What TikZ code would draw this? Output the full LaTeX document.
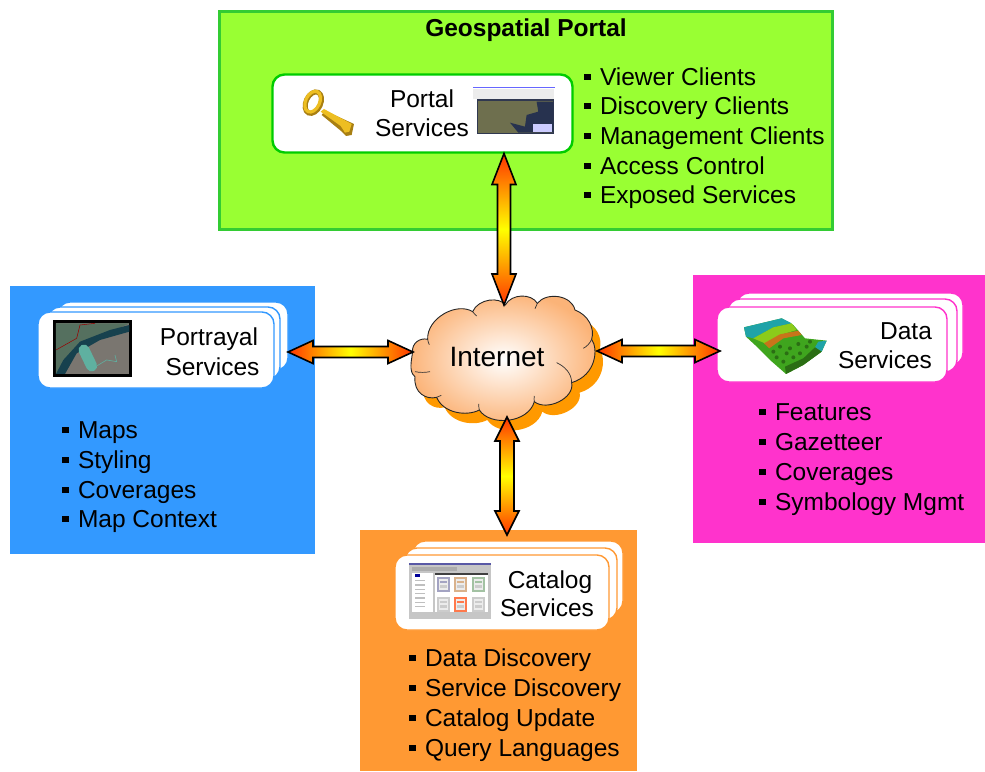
\documentclass[tikz,border=0pt]{standalone}
\usepackage{fontspec}
\setmainfont{Liberation Sans}
\usetikzlibrary{calc}
\definecolor{greenpanel}{HTML}{99FF33}
\definecolor{greenedge}{HTML}{33CC33}
\definecolor{greencard}{HTML}{00CC00}
\definecolor{bluepanel}{HTML}{3399FF}
\definecolor{magentapanel}{HTML}{FF33CC}
\definecolor{orangepanel}{HTML}{FF9933}
\definecolor{cloudshadow}{HTML}{FF9900}
\definecolor{cloudpeach}{HTML}{FBB985}
\definecolor{gold}{HTML}{EDBE22}
\definecolor{golddark}{HTML}{A87F12}
\definecolor{mapland}{HTML}{6E6F4E}
\definecolor{mapwater}{HTML}{27324F}
\definecolor{mapframe}{HTML}{303850}
\definecolor{rivertop}{HTML}{55705F}
\definecolor{riverdark}{HTML}{17414E}
\definecolor{cityland}{HTML}{7A7670}
\definecolor{capsule}{HTML}{5FB0A0}
\definecolor{terrteal}{HTML}{1FA3A8}
\definecolor{terrgreen}{HTML}{3FA51E}
\definecolor{terrlime}{HTML}{8CCB1A}
\definecolor{terrorange}{HTML}{C8741A}
\definecolor{terrdark}{HTML}{2B6E14}
\pgfdeclarehorizontalshading{arrowh}{100bp}{rgb(0bp)=(1,.2,0); rgb(25bp)=(1,.2,0); rgb(50bp)=(1,1,0); rgb(75bp)=(1,.2,0); rgb(100bp)=(1,.2,0)}
\pgfdeclareverticalshading{arrowv}{100bp}{rgb(0bp)=(1,.2,0); rgb(25bp)=(1,.2,0); rgb(50bp)=(1,1,0); rgb(75bp)=(1,.2,0); rgb(100bp)=(1,.2,0)}
\tikzset{
  panel/.style={rectangle,inner sep=0pt,outer sep=0pt},
  card/.style={rectangle,rounded corners=12pt,fill=white,inner sep=0pt,outer sep=0pt,line width=1.4pt},
  txt/.style={inner sep=0pt,outer sep=0pt,font=\fontsize{24.5}{28}\selectfont,text=black},
  linkbody/.style={draw=black,line width=1.6pt,line join=miter,miter limit=3},
}
\newcommand\itm{\raisebox{5.5pt}{\rule{6.5pt}{6.5pt}}\hspace{9.5pt}}
% horizontal double arrow between two named coordinates
\newcommand\hlink[2]{\path[linkbody,shading=arrowh] let \p1=(#1),\p2=(#2) in
  (\x1,\y1) -- (\x1+25pt,\y1+11.5pt) -- (\x1+25pt,\y1+5.5pt) -- (\x2-25pt,\y1+5.5pt) -- (\x2-25pt,\y1+11.5pt) --
  (\x2,\y1) -- (\x2-25pt,\y1-11.5pt) -- (\x2-25pt,\y1-5.5pt) -- (\x1+25pt,\y1-5.5pt) -- (\x1+25pt,\y1-11.5pt) -- cycle;}
% vertical double arrow: #1 head length, #2 shaft half width, #3 lower end, #4 upper end
\newcommand\vlink[4]{\path[linkbody,shading=arrowv] let \p1=(#3),\p2=(#4) in
  (\x1,\y1) -- (\x1+12pt,\y1+#1pt) -- (\x1+#2pt,\y1+#1pt) -- (\x1+#2pt,\y2-#1pt) -- (\x1+12pt,\y2-#1pt) --
  (\x1,\y2) -- (\x1-12pt,\y2-#1pt) -- (\x1-#2pt,\y2-#1pt) -- (\x1-#2pt,\y1+#1pt) -- (\x1-12pt,\y1+#1pt) -- cycle;}
\begin{document}
\begin{tikzpicture}[x=1pt,y=-1pt]
\useasboundingbox (0,0) rectangle (985,771);
% panels
\node[panel,fill=greenpanel,draw=greenedge,line width=3pt,minimum width=613pt,minimum height=218pt] (portalpanel) at (526,120) {};
\node[panel,fill=bluepanel,minimum width=305pt,minimum height=268pt] (portrayalpanel) at (162.5,420) {};
\node[panel,fill=magentapanel,minimum width=292pt,minimum height=268pt] (datapanel) at (839,409) {};
\node[panel,fill=orangepanel,minimum width=277pt,minimum height=241pt] (catalogpanel) at (498.5,650.5) {};
% cards
\node[card,draw=greencard,line width=2.4pt,minimum width=300pt,minimum height=78pt] (portal) at (422.5,113.5) {};
\node[card,draw=bluepanel,minimum width=230pt,minimum height=68pt] (portrayal3) at (173,336) {};
\node[card,draw=bluepanel,minimum width=232pt,minimum height=72pt] (portrayal2) at (164,343) {};
\node[card,draw=bluepanel,minimum width=236pt,minimum height=76pt] (portrayal1) at (156,350) {};
\node[card,draw=magentapanel,minimum width=226pt,minimum height=72pt] (data3) at (850,329) {};
\node[card,draw=magentapanel,minimum width=229pt,minimum height=73pt] (data2) at (842.5,335.5) {};
\node[card,draw=magentapanel,minimum width=230pt,minimum height=75pt] (data1) at (832,344.5) {};
\node[card,draw=orangepanel,minimum width=210pt,minimum height=72pt] (catalog3) at (518,577) {};
\node[card,draw=orangepanel,minimum width=212pt,minimum height=72pt] (catalog2) at (511,584) {};
\node[card,draw=orangepanel,minimum width=214pt,minimum height=75pt] (catalog1) at (502,592.5) {};
% key and portal screenshot
\begin{scope}[shift={(210,0)},x=.3333pt,y=-.3333pt]
  \fill[golddark] (335,345) -- (345,332) -- (432,372) -- (425,405) -- (408,408) -- (392,392) -- cycle;
  \fill[gold] (332,335) -- (342,327) -- (425,372) -- (418,395) -- (405,398) -- (392,378) -- cycle;
  \draw[golddark,line width=5pt,rotate around={-25:(310,308)}] (310,308) ellipse [x radius=22,y radius=34];
  \draw[gold,line width=3.2pt,rotate around={-25:(308,305)}] (308,305) ellipse [x radius=21,y radius=33];
  \fill[white] (788,260) rectangle (1035,415);
  \fill[blue!60!white] (788,260) rectangle (1035,265);
  \fill[gray!15] (790,266) rectangle (1033,296);
  \fill[mapframe] (800,296) rectangle (1032,403);
  \fill[mapland] (804,302) rectangle (1030,398);
  \fill[mapwater] (980,305) -- (1030,305) -- (1030,398) -- (925,398) -- (900,368) -- (945,380) -- (950,345) -- (985,335) -- cycle;
  \fill[blue!20!white] (970,372) rectangle (1026,395);
\end{scope}
% portrayal picture
\begin{scope}[shift={(0,280)},x=.3333pt,y=-.3333pt]
  \fill[black] (160,120) rectangle (395,290);
  \fill[cityland] (168,130) rectangle (388,282);
  \fill[rivertop] (168,130) -- (388,130) -- (345,150) -- (240,190) -- (190,282) -- (168,282) -- cycle;
  \fill[riverdark] (388,135) -- (388,155) -- (300,180) -- (230,220) -- (195,282) -- (168,282) -- (190,240) -- (240,185) -- (330,150) -- cycle;
  \draw[capsule,line width=11pt,line cap=round] (252,210) -- (275,258);
  \draw[capsule,line width=.6pt] (290,258) -- (320,240) -- (350,245) -- (345,225);
  \draw[red!60!black,line width=.5pt] (168,210) -- (230,175) -- (240,135) -- (285,130);
\end{scope}
% terrain picture
\begin{scope}[shift={(690,270)},x=.3333pt,y=-.3333pt]
  \fill[terrgreen] (162,172) -- (275,145) -- (310,165) -- (345,205) -- (410,212) -- (395,245) -- (340,285) -- (288,312) -- (240,270) -- (195,225) -- (168,200) -- cycle;
  \fill[terrteal] (162,172) -- (275,145) -- (305,160) -- (250,172) -- (190,205) -- (168,200) -- cycle;
  \fill[terrlime] (250,172) -- (305,160) -- (320,180) -- (270,195) -- (225,220) -- (190,205) -- cycle;
  \fill[terrorange] (222,220) -- (270,193) -- (325,182) -- (335,195) -- (280,205) -- (238,235) -- cycle;
  \fill[terrteal] (410,212) -- (395,245) -- (375,232) -- (385,215) -- cycle;
  \fill[terrdark] (288,312) -- (340,285) -- (395,245) -- (375,232) -- (340,265) -- (285,290) -- cycle;
  \foreach \a/\b in {250/245,260/262,300/235,330/250,280/275,310/262,350/230,290/250,325/222,360/215,270/230,305/290}
    \fill[terrdark] (\a,\b) circle [radius=6];
\end{scope}
% catalog screenshot
\begin{scope}[shift={(360,525)},x=.3333pt,y=-.3333pt]
  \fill[gray!45] (148,115) rectangle (392,283);
  \fill[blue!30!gray] (148,115) rectangle (392,120);
  \fill[gray!65] (155,127) rectangle (290,137);
  \fill[black!75] (225,143) rectangle (385,150);
  \fill[white] (155,145) rectangle (218,262);
  \fill[white] (225,150) rectangle (385,262);
  \fill[blue!60!black] (165,147) rectangle (180,155);
  \foreach \y in {165,178,...,255} \fill[gray!50] (165,\y) rectangle (195,\y+4);
  \foreach \a/\b/\c in {230/155/blue!20!gray!60,282/155/orange!50!gray!60,335/155/green!20!gray!60,230/215/gray!40,282/215/red!50!orange!70,335/215/gray!40}
    {\fill[\c] (\a,\b) rectangle (\a+40,\b+47); \fill[white!85!gray] (\a+6,\b+7) rectangle (\a+34,\b+40);
     \fill[\c] (\a+10,\b+12) rectangle (\a+30,\b+18); \fill[gray!40] (\a+10,\b+24) rectangle (\a+30,\b+34);}
\end{scope}
% cloud
\begin{scope}[shift={(280,260)},x=.3333pt,y=-.3333pt]
  \def\cloudpath{(398,275) .. controls (395,250) and (420,232) .. (443,238)
    .. controls (440,175) and (530,125) .. (578,155)
    .. controls (595,115) and (660,110) .. (676,135)
    .. controls (695,100) and (755,100) .. (772,130)
    .. controls (800,95) and (875,105) .. (885,150)
    .. controls (925,165) and (945,205) .. (935,238)
    .. controls (955,265) and (950,345) .. (875,368)
    .. controls (885,415) and (800,455) .. (763,425)
    .. controls (745,490) and (630,500) .. (598,450)
    .. controls (560,470) and (490,460) .. (470,412)
    .. controls (440,420) and (400,400) .. (405,350)
    .. controls (385,335) and (395,300) .. (398,275) -- cycle}
  \fill[cloudshadow,shift={(24,30)}] \cloudpath;
  \path[draw=black!85,line width=.9pt,inner color=white,outer color=cloudpeach!90!orange] \cloudpath;
  \draw[black!80,line width=.7pt] (405,335) .. controls (420,338) and (435,338) .. (450,335);
  \draw[black!80,line width=.7pt] (443,238) .. controls (444,245) and (446,250) .. (448,254);
  \draw[black!80,line width=.7pt] (578,155) .. controls (582,160) and (586,165) .. (590,168);
  \draw[black!80,line width=.7pt] (935,238) .. controls (930,250) and (920,260) .. (910,265);
  \draw[black!80,line width=.7pt] (875,368) .. controls (875,340) and (855,320) .. (830,308);
  \draw[black!80,line width=.7pt] (763,425) .. controls (762,420) and (762,415) .. (763,408);
  \draw[black!80,line width=.7pt] (598,450) .. controls (597,445) and (596,438) .. (596,432);
  \draw[black!80,line width=.7pt] (470,412) .. controls (474,410) and (480,408) .. (484,406);
  \draw[black!80,line width=.7pt] (772,130) .. controls (770,135) and (768,140) .. (765,146);
\end{scope}
\node[txt,font=\fontsize{28}{32}\selectfont] (internet) at (497,357) {Internet};
% texts
\node[txt,font=\fontsize{24.5}{28}\selectfont\bfseries,anchor=base] (title) at (526,36.5) {Geospatial Portal};
\node[txt,anchor=base] (t1) at (422,107.5) {Portal};
\node[txt,anchor=base] (t2) at (422,136.5) {Services};
\node[txt,anchor=base] (t3) at (209,345.5) {Portrayal};
\node[txt,anchor=base] (t4) at (212.5,375.5) {Services};
\node[txt,anchor=base] (t5) at (906,339.5) {Data};
\node[txt,anchor=base] (t6) at (885,368.5) {Services};
\node[txt,anchor=base] (t7) at (550,588.5) {Catalog};
\node[txt,anchor=base] (t8) at (547,616.5) {Services};
\foreach \n/\y/\s in {a/85.5/Viewer Clients,b/114.5/Discovery Clients,c/144.5/Management Clients,d/174.5/Access Control,e/203.5/Exposed Services}
  \node[txt,anchor=base west] (p\n) at (584,\y) {\itm\s};
\foreach \n/\y/\s in {a/438.5/Maps,b/468.5/Styling,c/498.5/Coverages,d/527.5/Map Context}
  \node[txt,anchor=base west] (q\n) at (62,\y) {\itm\s};
\foreach \n/\y/\s in {a/420.5/Features,b/450.5/Gazetteer,c/480.5/Coverages,d/510.5/Symbology Mgmt}
  \node[txt,anchor=base west] (r\n) at (759,\y) {\itm\s};
\foreach \n/\y/\s in {a/666.5/Data Discovery,b/696.5/Service Discovery,c/726.5/Catalog Update,d/756.5/Query Languages}
  \node[txt,anchor=base west] (s\n) at (409,\y) {\itm\s};
% connector ends
\coordinate (portalS) at ($(portal.south)+(81.5,1)$);
\coordinate (cloudN) at ($(internet)+(7,-52)$);
\coordinate (portrayalE) at ($(portrayal3.east)+(0,16)$);
\coordinate (cloudW) at ($(internet)+(-84,-5)$);
\coordinate (cloudE) at ($(internet)+(100,-6)$);
\coordinate (dataW) at ($(data1.west)+(3,6.5)$);
\coordinate (cloudS) at ($(internet)+(10,60)$);
\coordinate (catalogN) at ($(catalog3.north)+(-11,-6)$);
% connectors
\vlink{31}{6.5}{cloudN}{portalS}
\hlink{portrayalE}{cloudW}
\hlink{cloudE}{dataW}
\vlink{24}{7}{catalogN}{cloudS}
\end{tikzpicture}
\end{document}
